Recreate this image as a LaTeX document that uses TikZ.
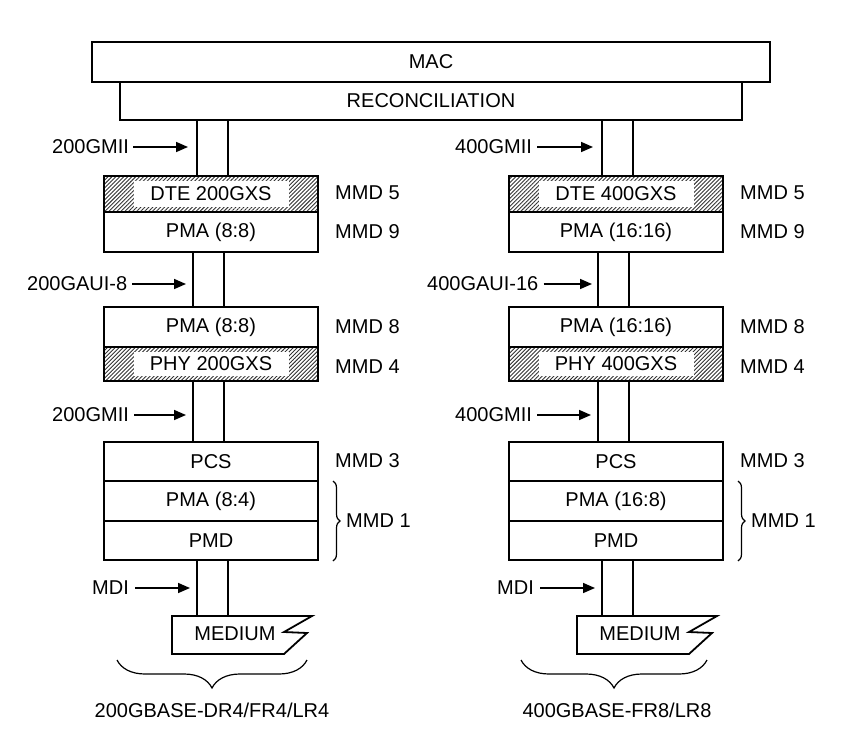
\documentclass[tikz,border=0pt]{standalone}
\usepackage{fontspec}
\setmainfont{Liberation Sans}
\usetikzlibrary{patterns.meta,decorations.pathreplacing,arrows.meta}
\begin{document}
\begin{tikzpicture}[x=1pt,y=-1pt,
  every node/.style={font=\fontsize{20}{23}\selectfont, inner sep=0pt},
  box/.style={draw, line width=1.8pt, fill=white, minimum width=214pt},
  hbox/.style={draw, line width=1.8pt, pattern={Lines[angle=45,distance=2.8pt,line width=0.9pt]}, pattern color=black!80, minimum width=214pt},
  wbox/.style={fill=white, minimum width=155pt, minimum height=26pt},
  chan/.style={line width=1.8pt},
  arr/.style={-{Triangle[length=12pt,width=10pt]}, line width=1.6pt},
  lbl/.style={anchor=west},
  brc/.style={decorate, line width=1.2pt}]
\fill[white] (0,0) rectangle (844,744);
\useasboundingbox (0,0) rectangle (844,744);

% top
\node[box, minimum width=678pt, minimum height=40pt] (mac) at (431,62) {MAC};
\node[box, minimum width=622pt, minimum height=38pt] (rec) at (431,101) {RECONCILIATION};

% ---------- left column ----------
\draw[chan] (197,120) -- (197,176) (228,120) -- (228,176);
\node[hbox, minimum height=36pt] (dteL) at (211,194) {};
\node[wbox] (dteLt) at (dteL.center) {DTE 200GXS};
\node[box, minimum height=40pt] (pma1L) at (211,232) {PMA (8:8)};
\draw[chan] (193,252) -- (193,307) (224,252) -- (224,307);
\node[box, minimum height=40pt] (pma2L) at (211,327) {PMA (8:8)};
\node[hbox, minimum height=34pt] (phyL) at (211,364) {};
\node[wbox, minimum height=24pt] (phyLt) at (phyL.center) {PHY 200GXS};
\draw[chan] (193,381) -- (193,442) (224,381) -- (224,442);
\node[box, minimum height=39pt] (pcsL) at (211,461.5) {PCS};
\node[box, minimum height=40pt] (pma3L) at (211,501) {PMA (8:4)};
\node[box, minimum height=39pt] (pmdL) at (211,540.5) {PMD};
\draw[chan] (197,560) -- (197,616) (228,560) -- (228,616);
\draw[line width=1.8pt, fill=white] (172,616) -- (312,616) -- (284,632) -- (307,633) -- (284,654) -- (172,654) -- cycle;
\node (medL) at (235,634) {MEDIUM};

\node[lbl] (gmii1L) at (52,147) {200GMII};
\coordinate (a1L) at (188,147);
\draw[arr] ([xshift=4pt]gmii1L.east) -- (a1L);
\node[lbl] (gauiL) at (27,284) {200GAUI-8};
\coordinate (a2L) at (186,284);
\draw[arr] ([xshift=5pt]gauiL.east) -- (a2L);
\node[lbl] (gmii2L) at (52,415) {200GMII};
\coordinate (a3L) at (186,415);
\draw[arr] ([xshift=5pt]gmii2L.east) -- (a3L);
\node[lbl] (mdiL) at (92,588) {MDI};
\coordinate (a4L) at (190,588);
\draw[arr] ([xshift=6pt]mdiL.east) -- (a4L);

\node[lbl] (m5L) at (335,193) {MMD 5};
\node[lbl] (m9L) at (335,232) {MMD 9};
\node[lbl] (m8L) at (335,327) {MMD 8};
\node[lbl] (m4L) at (335,367) {MMD 4};
\node[lbl] (m3L) at (335,461) {MMD 3};
\draw[brc, decoration={brace, amplitude=7pt}] (333,481) -- (333,561);
\node[lbl] (m1L) at (346,521) {MMD 1};
\draw[brc, decoration={brace, amplitude=28pt}] (307,660) -- (117,660);
\node (baseL) at (212,710) {200GBASE-DR4/FR4/LR4};

% ---------- right column ----------
\draw[chan] (602,120) -- (602,176) (633,120) -- (633,176);
\node[hbox, minimum height=36pt] (dteR) at (616,194) {};
\node[wbox] (dteRt) at (dteR.center) {DTE 400GXS};
\node[box, minimum height=40pt] (pma1R) at (616,232) {PMA (16:16)};
\draw[chan] (598,252) -- (598,307) (629,252) -- (629,307);
\node[box, minimum height=40pt] (pma2R) at (616,327) {PMA (16:16)};
\node[hbox, minimum height=34pt] (phyR) at (616,364) {};
\node[wbox, minimum height=24pt] (phyRt) at (phyR.center) {PHY 400GXS};
\draw[chan] (598,381) -- (598,442) (629,381) -- (629,442);
\node[box, minimum height=39pt] (pcsR) at (616,461.5) {PCS};
\node[box, minimum height=40pt] (pma3R) at (616,501) {PMA (16:8)};
\node[box, minimum height=39pt] (pmdR) at (616,540.5) {PMD};
\draw[chan] (602,560) -- (602,616) (633,560) -- (633,616);
\draw[line width=1.8pt, fill=white] (577,616) -- (717,616) -- (689,632) -- (712,633) -- (689,654) -- (577,654) -- cycle;
\node (medR) at (640,634) {MEDIUM};

\node[lbl] (gmii1R) at (455,147) {400GMII};
\coordinate (a1R) at (593,147);
\draw[arr] ([xshift=5pt]gmii1R.east) -- (a1R);
\node[lbl] (gauiR) at (427,284) {400GAUI-16};
\coordinate (a2R) at (592,284);
\draw[arr] ([xshift=5pt]gauiR.east) -- (a2R);
\node[lbl] (gmii2R) at (455,415) {400GMII};
\coordinate (a3R) at (591,415);
\draw[arr] ([xshift=5pt]gmii2R.east) -- (a3R);
\node[lbl] (mdiR) at (497,588) {MDI};
\coordinate (a4R) at (595,588);
\draw[arr] ([xshift=6pt]mdiR.east) -- (a4R);

\node[lbl] (m5R) at (740,193) {MMD 5};
\node[lbl] (m9R) at (740,232) {MMD 9};
\node[lbl] (m8R) at (740,327) {MMD 8};
\node[lbl] (m4R) at (740,367) {MMD 4};
\node[lbl] (m3R) at (740,461) {MMD 3};
\draw[brc, decoration={brace, amplitude=7pt}] (738,481) -- (738,561);
\node[lbl] (m1R) at (751,521) {MMD 1};
\draw[brc, decoration={brace, amplitude=28pt}] (707,660) -- (521,660);
\node (baseR) at (617,710) {400GBASE-FR8/LR8};
\end{tikzpicture}
\end{document}
